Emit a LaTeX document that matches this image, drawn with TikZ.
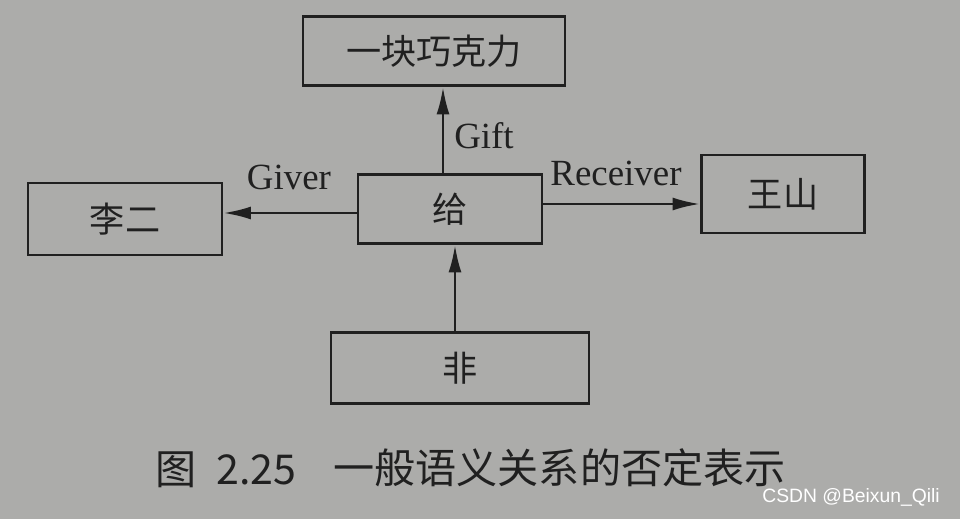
\documentclass[tikz,border=0pt]{standalone}
\usepackage{fontspec}
\setmainfont{Liberation Serif}
\newfontfamily\cjk{Noto Sans CJK SC}
\newfontfamily\wm{Liberation Sans}
\usetikzlibrary{arrows.meta}
\definecolor{paper}{RGB}{172,172,170}
\definecolor{ink}{RGB}{32,32,32}
\tikzset{
  box/.style={draw=ink, line width=1.6pt, minimum width=#1, minimum height=1.38cm, inner sep=0pt, font=\cjk\fontsize{20}{20}\selectfont, text=ink},
  conn/.style={draw=ink, line width=1.5pt, -{Latex[length=0.55cm,width=0.26cm]}},
  lbl/.style={font=\fontsize{21}{21}\selectfont, text=ink},
  captxt/.style={font=\cjk\fontsize{23.4}{24}\selectfont, text=ink, anchor=west, inner sep=0pt},
}
\begin{document}
\begin{tikzpicture}[x=0.02cm,y=-0.02cm]
\fill[paper] (0,0) rectangle (960,519);
\useasboundingbox (0,0) rectangle (960,519);
\node[box=5.24cm] (choc) at (434,51) {一块巧克力};
\node[box=3.88cm, minimum height=1.44cm] (li) at (125,219) {李二};
\node[box=3.68cm] (gei) at (450,209) {给};
\node[box=3.26cm, minimum height=1.56cm] (wang) at (783,194) {王山};
\node[box=5.16cm, minimum height=1.42cm] (fei) at (460,368) {非};
\draw[conn] (gei.north -| 443,0) -- (choc.south -| 443,0);
\draw[conn] (gei.west |- 0,213) -- (li.east |- 0,213);
\draw[conn] (gei.east |- 0,204) -- (wang.west |- 0,204);
\draw[conn] (fei.north -| 455,0) -- (gei.south -| 455,0);
\node[lbl] (lgift) at (484,136) {Gift};
\node[lbl] (lgiver) at (289,177) {Giver};
\node[lbl] (lrec) at (616,173) {Receiver};
\node[captxt] (cap1) at (155,470) {图};
\node[captxt] (cap2) at (216,470) {2.25};
\node[captxt] (cap3) at (333,468) {一般语义关系的否定表示};
\node[font=\wm\fontsize{11}{11}\selectfont, text=white, anchor=east] (wmk) at (946,497) {CSDN @Beixun\_Qili};
\end{tikzpicture}
\end{document}
